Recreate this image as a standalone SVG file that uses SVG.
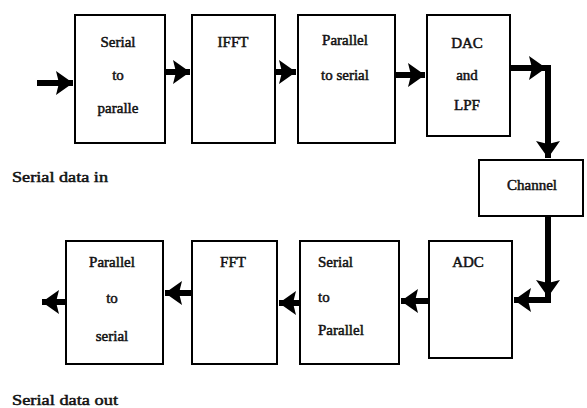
<svg xmlns="http://www.w3.org/2000/svg" width="587" height="408" viewBox="0 0 587 408">
<style>
.box{fill:#fff;stroke:#000;stroke-width:2}
.ln{fill:none;stroke:#000;stroke-width:6;stroke-linejoin:miter}
text{font-family:"Liberation Serif",serif;font-size:15px;font-weight:normal;fill:#111;stroke:#111;stroke-width:0.5}
.c{text-anchor:middle}
</style>
<defs>
<marker id="ah" viewBox="-19 -14 20 28" refX="0" refY="0" markerWidth="20" markerHeight="28" markerUnits="userSpaceOnUse" orient="auto">
<path d="M0,0 L-17,-12 L-14,0 L-17,12 Z" fill="#000"/>
</marker>
</defs>
<g id="connectors">
<path class="ln" d="M37,83 H73" marker-end="url(#ah)"/>
<path class="ln" d="M165,72 H190" marker-end="url(#ah)"/>
<path class="ln" d="M275,72 H296" marker-end="url(#ah)"/>
<path class="ln" d="M395,75 H425" marker-end="url(#ah)"/>
<path class="ln" d="M510,68 H546" marker-end="url(#ah)"/>
<path class="ln" d="M548,65 V158" marker-end="url(#ah)"/>
<path class="ln" d="M548,216 V297" marker-end="url(#ah)"/>
<path class="ln" d="M551,300 H514" marker-end="url(#ah)"/>
<path class="ln" d="M429,301 H401" marker-end="url(#ah)"/>
<path class="ln" d="M300,303 H279" marker-end="url(#ah)"/>
<path class="ln" d="M192,293 H165" marker-end="url(#ah)"/>
<path class="ln" d="M66,302 H42" marker-end="url(#ah)"/>
</g>
<g id="s2p"><rect class="box" x="75" y="15" width="90" height="128"/>
<text class="c" x="118" y="47">Serial</text><text class="c" x="118" y="80">to</text><text class="c" x="118" y="113">paralle</text></g>
<g id="ifft"><rect class="box" x="192" y="15" width="83" height="128"/>
<text class="c" x="233" y="47">IFFT</text></g>
<g id="p2s"><rect class="box" x="298" y="15" width="97" height="128"/>
<text class="c" x="345" y="45">Parallel</text><text class="c" x="345" y="80">to serial</text></g>
<g id="dac"><rect class="box" x="427" y="15" width="83" height="121"/>
<text class="c" x="467" y="48">DAC</text><text class="c" x="467" y="80">and</text><text class="c" x="467" y="110">LPF</text></g>
<g id="channel"><rect class="box" x="479" y="160" width="104" height="56"/>
<text class="c" x="532" y="190">Channel</text></g>
<g id="adc"><rect class="box" x="429" y="241" width="83" height="117"/>
<text class="c" x="468" y="267">ADC</text></g>
<g id="s2p2"><rect class="box" x="300" y="241" width="99" height="123"/>
<text x="318" y="267">Serial</text><text x="318" y="302">to</text><text x="318" y="335">Parallel</text></g>
<g id="fft"><rect class="box" x="192" y="241" width="85" height="123"/>
<text class="c" x="233" y="267">FFT</text></g>
<g id="p2s2"><rect class="box" x="66" y="241" width="97" height="123"/>
<text class="c" x="112" y="267">Parallel</text><text class="c" x="112" y="303">to</text><text class="c" x="112" y="341">serial</text></g>
<g id="labels">
<text x="12" y="182" textLength="96" lengthAdjust="spacingAndGlyphs">Serial data in</text>
<text x="12" y="405" textLength="106" lengthAdjust="spacingAndGlyphs">Serial data out</text>
</g>
</svg>
